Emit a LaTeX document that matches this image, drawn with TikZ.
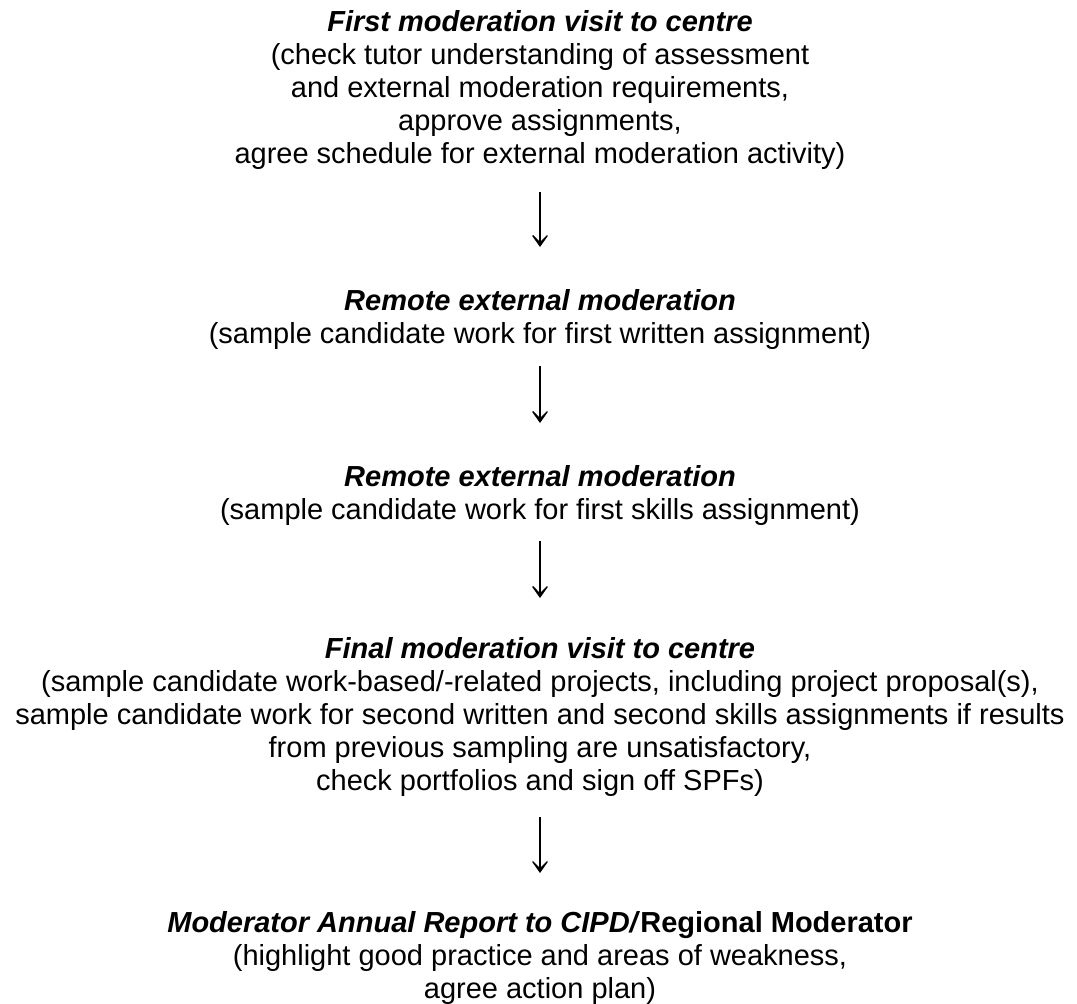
\documentclass[tikz,border=0pt]{standalone}
\usepackage{fontspec}
\setmainfont{Liberation Sans}
\usetikzlibrary{arrows.meta}

\tikzset{
  stage/.style={anchor=base, inner sep=0pt,
    font=\fontsize{29}{33.2}\selectfont},
  flowarrow/.style={line width=2.6pt,
    -{Stealth[length=17pt,width=24pt,inset=12pt]}}
}
\newcommand{\stagetitle}[1]{\textbf{\textit{#1}}}

\begin{document}
\begin{tikzpicture}[x=1pt,y=-1pt]
  \useasboundingbox (0,0) rectangle (1077,1004);

  \node[stage] (s1) at (540,31) {\begin{tabular}[t]{@{}c@{}}
    \stagetitle{First moderation visit to centre}\\
    (check tutor understanding of assessment\\
    and external moderation requirements,\\
    approve assignments,\\
    agree schedule for external moderation activity)
  \end{tabular}};

  \node[stage] (s2) at (540,310) {\begin{tabular}[t]{@{}c@{}}
    \stagetitle{Remote external moderation}\\
    (sample candidate work for first written assignment)
  \end{tabular}};

  \node[stage] (s3) at (540,486) {\begin{tabular}[t]{@{}c@{}}
    \stagetitle{Remote external moderation}\\
    (sample candidate work for first skills assignment)
  \end{tabular}};

  \node[stage] (s4) at (540,658) {\begin{tabular}[t]{@{}c@{}}
    \stagetitle{Final moderation visit to centre}\\
    (sample candidate work-based/-related projects, including project proposal(s),\\
    sample candidate work for second written and second skills assignments if results\\
    from previous sampling are unsatisfactory,\\
    check portfolios and sign off SPFs)
  \end{tabular}};

  \node[stage] (s5) at (540,932) {\begin{tabular}[t]{@{}c@{}}
    \stagetitle{Moderator Annual Report to CIPD/}\textbf{Regional Moderator}\\
    (highlight good practice and areas of weakness,\\
    agree action plan)
  \end{tabular}};

  % arrow ends between consecutive stages
  \coordinate (a1s) at (540,192);  \coordinate (a1e) at (540,247);
  \coordinate (a2s) at (540,366);  \coordinate (a2e) at (540,423);
  \coordinate (a3s) at (540,541);  \coordinate (a3e) at (540,598);
  \coordinate (a4s) at (540,817);  \coordinate (a4e) at (540,873);

  \draw[flowarrow] (a1s) -- (a1e);
  \draw[flowarrow] (a2s) -- (a2e);
  \draw[flowarrow] (a3s) -- (a3e);
  \draw[flowarrow] (a4s) -- (a4e);
\end{tikzpicture}
\end{document}
